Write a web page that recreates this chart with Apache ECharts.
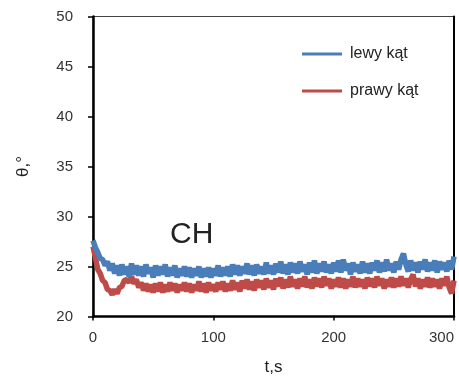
<!DOCTYPE html>
<html>
<head>
<meta charset="utf-8">
<script src="https://cdn.jsdelivr.net/npm/echarts@6/dist/echarts.min.js"></script>
<style>html,body{margin:0;padding:0;background:#fff;}#c{width:459px;height:377px;}</style>
</head>
<body>
<div id="c"></div>
<script>
const seriesNames = ['lewy kąt', 'prawy kąt'];
const tStart = 0, tStep = 2;
const lewy = [27.6,26.9,26.4,25.8,25.7,25.1,25.5,24.6,25.3,24.3,25.1,24.1,25.2,24.2,25.0,24.0,25.3,24.2,25.1,24.1,25.0,24.0,25.2,24.3,24.9,23.9,25.1,24.1,25.0,24.2,25.2,24.0,24.9,24.1,25.1,23.9,24.8,24.1,25.0,24.0,24.9,23.9,24.8,24.1,25.0,23.9,24.8,24.0,24.9,23.9,24.8,24.1,25.1,24.0,24.9,24.1,25.0,24.0,25.2,24.2,25.1,24.1,25.0,24.3,25.3,24.2,25.1,24.1,25.2,24.3,25.0,24.2,25.4,24.3,25.1,24.2,25.3,24.4,25.5,24.3,25.2,24.2,25.4,24.4,25.3,24.3,25.5,24.5,25.2,24.2,25.4,24.4,25.6,24.3,25.3,24.5,25.5,24.4,25.2,24.3,25.4,24.5,25.6,24.4,25.7,24.6,25.3,24.2,25.4,24.5,25.2,24.3,25.5,24.4,25.3,24.3,25.4,24.6,25.6,24.4,25.4,24.5,25.7,24.6,25.3,24.4,25.5,24.7,25.7,26.3,25.2,24.5,25.6,24.6,25.4,24.4,25.5,24.7,25.7,24.5,25.4,24.6,25.6,24.4,25.5,24.7,25.4,24.5,25.6,24.7,26.0];
const prawy = [27.0,25.9,24.7,24.3,23.6,23.4,22.7,22.6,22.2,22.7,22.3,22.9,23.0,23.6,23.7,23.4,24.0,23.3,23.7,22.9,23.4,22.6,23.3,22.5,23.2,22.4,23.3,22.5,23.4,22.4,23.2,22.5,23.4,22.6,23.3,22.4,23.2,22.6,23.4,22.5,23.3,22.4,23.2,22.6,23.5,22.5,23.3,22.4,23.4,22.6,23.2,22.5,23.4,22.7,23.5,22.5,23.3,22.6,23.6,22.7,23.4,22.5,23.6,22.8,23.7,22.7,23.5,22.6,23.7,22.9,23.6,22.7,23.8,22.9,23.6,22.7,23.8,23.0,23.9,22.8,23.7,22.9,24.0,23.0,23.7,22.8,23.8,23.0,24.0,22.9,23.7,22.8,23.9,23.0,23.8,22.9,24.0,23.1,23.8,22.8,23.7,23.0,23.9,22.9,23.8,22.8,23.7,23.0,24.0,22.9,23.8,23.0,23.7,22.8,23.9,23.0,23.8,22.9,24.0,23.1,23.8,22.8,23.7,23.0,23.9,22.9,23.8,23.0,24.0,23.1,23.8,22.9,23.7,24.2,23.0,23.8,22.8,23.7,23.0,23.9,22.9,23.8,23.0,23.7,22.8,23.8,23.1,24.0,22.9,22.3,23.6];
const xTicks = [0, 100, 200, 300];
const yTicks = [20, 25, 30, 35, 40, 45, 50];
const panelLabel = 'CH';
const xName = 't,s';
const yName = 'θ,°';

function pairs(vals){ return vals.map((v,i)=>[tStart + i*tStep, v]); }

const chart = echarts.init(document.getElementById('c'), null, {renderer:'canvas'});
const FF = 'Liberation Sans, Arial, sans-serif';
chart.setOption({
  animation: false,
  backgroundColor: '#fff',
  grid: { left: 93, top: 16.5, width: 361, height: 300, outerBoundsMode: 'none', containLabel: false,
          show: true, borderColor: '#444', borderWidth: 1, backgroundColor: 'transparent' },
  legend: {
    orient: 'vertical', left: 297, top: 41, itemWidth: 40, itemHeight: 3, itemGap: 21,
    icon: 'rect',
    textStyle: { fontFamily: FF, fontSize: 16, color: '#222', padding: [0,0,0,3] },
    data: seriesNames
  },
  xAxis: {
    type: 'value', min: xTicks[0], max: xTicks[xTicks.length-1], interval: 100,
    name: xName, nameLocation: 'middle', nameGap: 42,
    nameTextStyle: { fontFamily: FF, fontSize: 17, color: '#222' },
    axisLine: { lineStyle: { color: '#000', width: 2.5 } },
    axisTick: { show: true, length: 4, lineStyle: { color: '#000', width: 1.5 } },
    axisLabel: { fontFamily: FF, fontSize: 15, color: '#333', margin: 14,
                 alignMaxLabel: 'right', showMaxLabel: true },
    splitLine: { show: false }
  },
  yAxis: [{
    type: 'value', min: yTicks[0], max: yTicks[yTicks.length-1], interval: 5,
    name: yName, nameLocation: 'middle', nameGap: 61, nameRotate: 90,
    nameTextStyle: { fontFamily: FF, fontSize: 17, color: '#222' },
    axisLine: { show: true, lineStyle: { color: '#000', width: 2.5 } },
    axisTick: { show: true, length: 5, lineStyle: { color: '#000', width: 1.5 } },
    axisLabel: { fontFamily: FF, fontSize: 15, color: '#333', margin: 20 },
    splitLine: { show: false }
  },{
    type: 'value', position: 'right', min: 20, max: 50, interval: 5,
    axisLine: { show: true, lineStyle: { color: '#000', width: 2 } },
    axisTick: { show: false }, axisLabel: { show: false }, splitLine: { show: false }
  }],
  graphic: [{
    type: 'text', left: 170, top: 220,
    style: { text: panelLabel, fontFamily: FF, fontSize: 30, fill: '#222' }
  }],
  series: [
    { name: seriesNames[0], type: 'line', data: pairs(lewy), showSymbol: false, symbol: 'none',
      itemStyle: { color: '#4a7ebb' }, lineStyle: { color: '#4a7ebb', width: 5.5, join: 'bevel' }, z: 3 },
    { name: seriesNames[1], type: 'line', data: pairs(prawy), showSymbol: false, symbol: 'none',
      itemStyle: { color: '#be4b48' }, lineStyle: { color: '#be4b48', width: 5.5, join: 'bevel' }, z: 2 }
  ]
});
</script>
</body>
</html>
